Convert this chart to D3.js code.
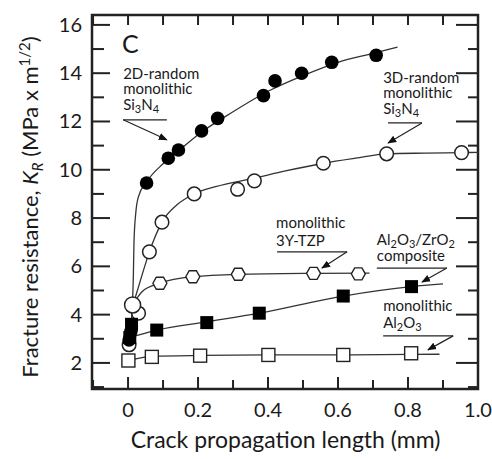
<!DOCTYPE html>
<html>
<head>
<meta charset="utf-8">
<script src="https://cdn.jsdelivr.net/npm/d3@7/dist/d3.min.js"></script>
<style>
  body { margin: 0; background: #fff; }
  svg text { font-family: Lato, "Open Sans", sans-serif; fill: #1a1a1a; }
</style>
</head>
<body>
<script>
// ---- data ----
// 2D-random monolithic Si3N4 (filled circles)
var si2dX = [0.003, 0.008, 0.053, 0.115, 0.144, 0.21, 0.256, 0.387, 0.42, 0.496, 0.582, 0.709];
var si2dY = [2.95, 3.3, 9.45, 10.48, 10.82, 11.61, 12.13, 13.07, 13.68, 14.0, 14.45, 14.74];
var si2dFitX = [0.004, 0.012, 0.015, 0.017, 0.022, 0.03, 0.053, 0.1, 0.15, 0.2, 0.3, 0.4, 0.5, 0.6, 0.7, 0.77];
var si2dFitY = [3.0, 4.3, 5.5, 7.0, 8.2, 8.9, 9.5, 10.25, 10.85, 11.45, 12.4, 13.25, 13.9, 14.45, 14.82, 15.08];

// 3D-random monolithic Si3N4 (open circles)
var si3dX = [0.003, 0.03, 0.013, 0.061, 0.097, 0.189, 0.313, 0.361, 0.558, 0.739, 0.953];
var si3dY = [2.75, 4.06, 4.4, 6.6, 7.83, 9.0, 9.19, 9.54, 10.27, 10.66, 10.71];
var si3dFitX = [0.01, 0.035, 0.061, 0.097, 0.14, 0.189, 0.25, 0.36, 0.45, 0.558, 0.65, 0.739, 0.85, 0.953, 1.0];
var si3dFitY = [4.2, 5.4, 6.6, 7.83, 8.55, 9.0, 9.3, 9.65, 9.95, 10.27, 10.48, 10.66, 10.69, 10.71, 10.72];

// monolithic 3Y-TZP (open hexagons)
var tzpX = [0.091, 0.185, 0.315, 0.53, 0.658];
var tzpY = [5.3, 5.57, 5.67, 5.71, 5.69];
var tzpFitX = [0.013, 0.04, 0.091, 0.185, 0.315, 0.53, 0.69];
var tzpFitY = [4.4, 4.95, 5.3, 5.57, 5.67, 5.71, 5.72];

// Al2O3/ZrO2 composite (filled squares)
var compX = [0.005, 0.01, 0.082, 0.225, 0.375, 0.615, 0.81];
var compY = [3.05, 3.6, 3.36, 3.67, 4.06, 4.77, 5.16];
var compFitX = [0.005, 0.082, 0.225, 0.375, 0.615, 0.81, 0.9];
var compFitY = [3.05, 3.36, 3.7, 4.06, 4.77, 5.16, 5.27];

// monolithic Al2O3 (open squares)
var al2o3X = [0.001, 0.068, 0.206, 0.401, 0.615, 0.809];
var al2o3Y = [2.1, 2.25, 2.3, 2.33, 2.33, 2.4];
var al2o3FitX = [0.001, 0.068, 0.206, 0.401, 0.615, 0.809, 0.89];
var al2o3FitY = [2.1, 2.27, 2.31, 2.33, 2.33, 2.35, 2.36];

// tick values
var xTickLabels = ["0", "0.2", "0.4", "0.6", "0.8", "1.0"];
var xTicks = [0, 0.2, 0.4, 0.6, 0.8, 1.0];
var xMinorTicks = [-0.1, 0.1, 0.3, 0.5, 0.7, 0.9];
var yTicks = [2, 4, 6, 8, 10, 12, 14, 16];
var yMinorTicks = [1, 3, 5, 7, 9, 11, 13, 15];

// annotation text and leader lines (data units)
var annoText = [["2D-random", "monolithic", "Si_3N_4"], ["3D-random", "monolithic", "Si_3N_4"],
                ["monolithic", "3Y-TZP"], ["Al_2O_3/ZrO_2", "composite"], ["monolithic", "Al_2O_3"]];
var annoTextX = [-0.014, 0.729, 0.423, 0.711, 0.729];
var annoTextY = [13.76, 13.60, 7.59, 6.89, 4.15];
var annoGap = [15.5, 15.5, 18, 16.5, 17];
var leadX0 = [-0.014, 0.743, 0.426, 0.711, 0.729];
var leadX1 = [0.111, 0.84, 0.626, 0.911, 0.929];
var leadY = [12.07, 11.94, 6.60, 5.93, 3.12];
var leadFromLeft = [true, false, false, false, false];
var tipX = [0.111, 0.743, 0.554, 0.84, 0.857];
var tipY = [11.24, 11.11, 5.93, 5.35, 2.54];

var margin = {top: 15, left: 92, right: 14, bottom: 70};
var W = 492, H = 459;
var width = W - margin.left - margin.right,
    height = H - margin.top - margin.bottom;

var svg = d3.select("body").append("svg").attr("width", W).attr("height", H);
var defs = svg.append("defs");
defs.append("marker").attr("id", "arr").attr("viewBox", "0 0 10 10")
    .attr("refX", 9).attr("refY", 5).attr("markerWidth", 9).attr("markerHeight", 9)
    .attr("markerUnits", "userSpaceOnUse").attr("orient", "auto")
  .append("path").attr("d", "M0,1 L10,5 L0,9 Z").attr("fill", "#111");

var g = svg.append("g").attr("transform", "translate(" + margin.left + "," + margin.top + ")");

var x = d3.scaleLinear().domain([-0.103, 1.0]).range([0, width]);
var y = d3.scaleLinear().domain([0.92, 16.41]).range([height, 0]);

// ---- ticks (inward) ----
function tickSet(vals, len, side) {
  vals.forEach(function(v) {
    var l = g.append("line").attr("stroke", "#222").attr("stroke-width", 2);
    if (side == "left") l.attr("x1", 0).attr("x2", len).attr("y1", y(v)).attr("y2", y(v));
    if (side == "right") l.attr("x1", width).attr("x2", width - len).attr("y1", y(v)).attr("y2", y(v));
    if (side == "top") l.attr("x1", x(v)).attr("x2", x(v)).attr("y1", 0).attr("y2", len);
    if (side == "bottom") l.attr("x1", x(v)).attr("x2", x(v)).attr("y1", height).attr("y2", height - len);
  });
}
tickSet(yTicks, 18, "left");
tickSet(yMinorTicks, 12, "left");
tickSet(yTicks, 22, "right");
tickSet(yMinorTicks, 10, "right");
tickSet(xTicks.concat(xMinorTicks), 10, "top");
tickSet(xTicks, 12, "bottom");
tickSet(xMinorTicks, 9, "bottom");

g.append("rect").attr("width", width).attr("height", height)
  .attr("fill", "none").attr("stroke", "#222").attr("stroke-width", 2.5);

// tick labels
g.selectAll(".ylab").data(yTicks).enter().append("text")
  .attr("x", -10).attr("y", function(d) { return y(d); }).attr("dy", "0.35em")
  .attr("text-anchor", "end").style("font-size", "20px").text(function(d) { return d; });
g.selectAll(".xlab").data(xTicks).enter().append("text")
  .attr("x", function(d) { return x(d); }).attr("y", height + 28)
  .attr("text-anchor", "middle").style("font-size", "20px")
  .text(function(d, i) { return xTickLabels[i]; });

// axis titles
g.append("text").attr("x", x(0.45)).attr("y", height + 59).attr("text-anchor", "middle")
  .style("font-size", "23px").text("Crack propagation length (mm)");
var yt = svg.append("text").attr("transform", "translate(38,207) rotate(-90)")
  .attr("text-anchor", "middle").style("font-size", "22px");
yt.append("tspan").text("Fracture resistance, ");
yt.append("tspan").style("font-style", "italic").text("K");
yt.append("tspan").style("font-style", "italic").style("font-size", "15px").attr("dy", 5).text("R");
yt.append("tspan").attr("dy", -5).text(" (MPa x m");
yt.append("tspan").style("font-size", "15px").attr("dy", -8).text("1/2");
yt.append("tspan").attr("dy", 8).text(")");

g.append("text").attr("x", x(-0.017)).attr("y", y(14.84)).style("font-size", "25px").text("C");

// ---- fitted curves ----
var line = d3.line().x(function(d) { return x(d[0]); }).y(function(d) { return y(d[1]); })
  .curve(d3.curveMonotoneX);
[[si2dFitX, si2dFitY], [si3dFitX, si3dFitY], [tzpFitX, tzpFitY], [compFitX, compFitY], [al2o3FitX, al2o3FitY]]
  .forEach(function(s) {
    g.append("path").datum(d3.zip(s[0], s[1])).attr("d", line)
      .attr("fill", "none").attr("stroke", "#333").attr("stroke-width", 1.3);
  });

// ---- markers ----
function pts(xs, ys) { return d3.zip(xs, ys); }
var hex = "M-7,0 L-3.6,-6 L3.6,-6 L7,0 L3.6,6 L-3.6,6 Z";

g.selectAll(".c3").data(pts(si3dX, si3dY)).enter().append("circle")
  .attr("cx", function(d) { return x(d[0]); }).attr("cy", function(d) { return y(d[1]); })
  .attr("r", function(d) { return d[1] > 4.3 && d[0] < 0.02 ? 8 : 6.8; })
  .attr("fill", "#fff").attr("stroke", "#222").attr("stroke-width", 1.5);
g.selectAll(".c2").data(pts(si2dX, si2dY)).enter().append("circle")
  .attr("cx", function(d) { return x(d[0]); }).attr("cy", function(d) { return y(d[1]); })
  .attr("r", 6.8).attr("fill", "#000");
g.selectAll(".sq").data(pts(compX, compY)).enter().append("rect")
  .attr("x", function(d) { return x(d[0]) - 6.5; }).attr("y", function(d) { return y(d[1]) - 6.5; })
  .attr("width", 13).attr("height", 13).attr("fill", "#000");
g.selectAll(".osq").data(pts(al2o3X, al2o3Y)).enter().append("rect")
  .attr("x", function(d) { return x(d[0]) - 6.5; }).attr("y", function(d) { return y(d[1]) - 6.5; })
  .attr("width", 13).attr("height", 13).attr("fill", "#fff").attr("stroke", "#222").attr("stroke-width", 1.4);
g.selectAll(".hx").data(pts(tzpX, tzpY)).enter().append("path")
  .attr("transform", function(d) { return "translate(" + x(d[0]) + "," + y(d[1]) + ")"; })
  .attr("d", hex).attr("fill", "#fff").attr("stroke", "#222").attr("stroke-width", 1.4);

// ---- annotations ----
function subText(sel, str) {
  var shift = 0;
  str.split(/(_\d)/).forEach(function(part) {
    if (!part) return;
    if (part[0] == "_") {
      sel.append("tspan").style("font-size", "11px").attr("dy", 3 - shift).text(part.slice(1));
      shift = 3;
    } else {
      sel.append("tspan").attr("dy", -shift).text(part);
      shift = 0;
    }
  });
}
annoText.forEach(function(lines, i) {
  lines.forEach(function(t, j) {
    var tx = g.append("text").attr("x", x(annoTextX[i])).attr("y", y(annoTextY[i]) + j * annoGap[i])
      .style("font-size", "15px");
    subText(tx, t);
  });
  g.append("line").attr("x1", x(leadX0[i])).attr("x2", x(leadX1[i]))
    .attr("y1", y(leadY[i])).attr("y2", y(leadY[i])).attr("stroke", "#222").attr("stroke-width", 1.2);
  var sx = leadFromLeft[i] ? leadX0[i] : leadX1[i];
  g.append("line").attr("x1", x(sx)).attr("y1", y(leadY[i]))
    .attr("x2", x(tipX[i])).attr("y2", y(tipY[i]))
    .attr("stroke", "#222").attr("stroke-width", 1.2).attr("marker-end", "url(#arr)");
});
</script>
</body>
</html>
